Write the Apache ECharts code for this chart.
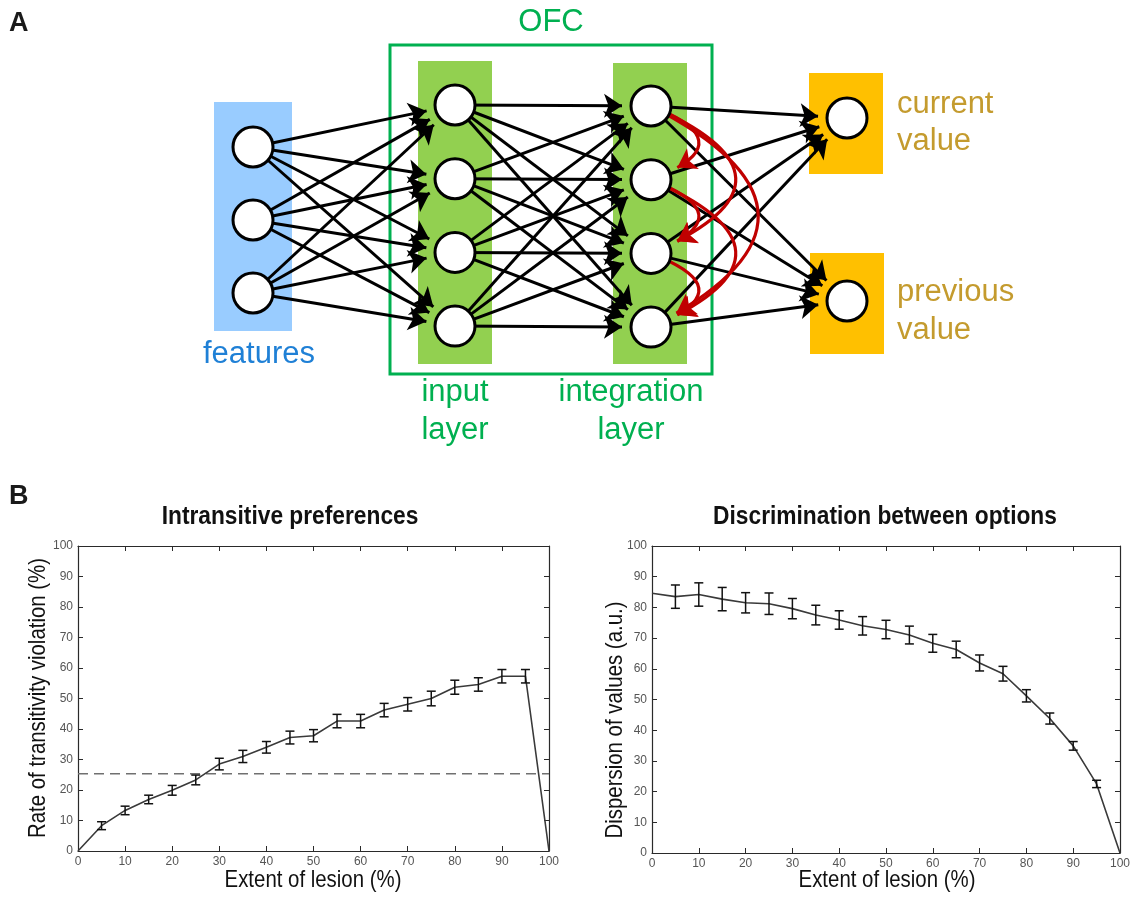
<!DOCTYPE html>
<html><head><meta charset="utf-8">
<script src="https://cdn.jsdelivr.net/npm/echarts@6/dist/echarts.min.js"></script>
<style>html,body{margin:0;padding:0;background:#fff}#c{width:1133px;height:897px}</style>
</head><body><div id="c"></div>
<script>
// ---------------- DATA ----------------
const lesion = [0,5,10,15,20,25,30,35,40,45,50,55,60,65,70,75,80,85,90,95,100];
const violationRate = [0,8.3,13.3,16.9,19.9,23.3,28.5,31.0,34.0,37.2,37.8,42.6,42.6,46.2,48.1,50.0,53.7,54.6,57.3,57.3,0];
const violationErr  = [null,1.3,1.4,1.4,1.6,1.6,1.9,2.0,1.9,2.1,2.0,2.2,2.2,2.2,2.2,2.4,2.3,2.2,2.2,2.2,null];
const chanceLevel = 25.3;
const dispersion    = [84.6,83.5,84.2,82.7,81.5,81.2,79.6,77.5,75.9,74.0,72.8,71.0,68.3,66.3,61.9,58.4,51.2,43.8,34.9,22.5,0];
const dispersionErr = [null,3.8,3.8,3.8,3.3,3.5,3.3,3.2,3.0,3.0,3.0,2.9,2.9,2.7,2.6,2.4,2.0,1.8,1.4,1.2,null];
const axisTicks = [0,10,20,30,40,50,60,70,80,90,100];

const layerNames = ['features','input layer','integration layer','output'];
const layerSizes = [3,4,4,2];
const outputNames = ['current value','previous value'];
const recurrentPairs = [[0,1],[0,2],[0,3],[1,2],[1,3],[2,3]];

const panelTitles = ['Intransitive preferences','Discrimination between options'];
const xTitle = 'Extent of lesion (%)';
const yTitles = ['Rate of transitivity violation (%)','Dispersion of values (a.u.)'];

// ---------------- LAYOUT / STYLE ----------------
const SANS = '"Liberation Sans",Arial,Helvetica,sans-serif';
const DIAG = {
  layerX: [253,455,651,847],
  layerTop: [147,105,106,118],
  layerStep: [73,73.7,73.7,183],
  nodeSize: 40,
  arrow: [11, 18],
  arcCurve: {1:1.3, 2:1.15, 3:0.97}
};

// ---------------- BUILD ----------------
const nodes = [], links = [];
layerSizes.forEach((n, li) => {
  for (let i = 0; i < n; i++) {
    nodes.push({name: 'L'+li+'N'+i, value: [DIAG.layerX[li], DIAG.layerTop[li] + i*DIAG.layerStep[li]]});
  }
});
for (let li = 0; li < layerSizes.length-1; li++) {
  for (let i = 0; i < layerSizes[li]; i++) for (let j = 0; j < layerSizes[li+1]; j++) {
    links.push({source: 'L'+li+'N'+i, target: 'L'+(li+1)+'N'+j});
  }
}
recurrentPairs.forEach(([a,b]) => {
  links.push({source:'L2N'+a, target:'L2N'+b, lineStyle:{color:'#C00000', width:3.2, opacity:1, curveness: DIAG.arcCurve[b-a]}});
});

function mkX(g, pos, labels) {
  return {
    gridIndex: g, type: 'value', position: pos, min: 0, max: 100, interval: 10,
    axisLine: {show: true, onZero: false, lineStyle: {color: '#2a2a2a', width: 1.2}},
    axisTick: {show: true, inside: true, length: 5, lineStyle: {color: '#2a2a2a', width: 1}},
    axisLabel: {show: labels, color: '#555', fontFamily: SANS, fontSize: 12, margin: 5},
    splitLine: {show: false}
  };
}
function errData(vals, errs) {
  const out = [];
  lesion.forEach((x, i) => { if (errs[i] != null) out.push([x, vals[i]-errs[i], vals[i]+errs[i]]); });
  return out;
}
function errSeries(xi, yi, vals, errs) {
  return {
    type: 'custom', xAxisIndex: xi, yAxisIndex: yi, silent: true, z: 4,
    data: errData(vals, errs),
    renderItem: (p, api) => {
      const x = api.value(0);
      const lo = api.coord([x, api.value(1)]);
      const hi = api.coord([x, api.value(2)]);
      const w = 4.5, st = {stroke: '#111', lineWidth: 1.5};
      return {type: 'group', children: [
        {type: 'line', shape: {x1: lo[0], y1: lo[1], x2: hi[0], y2: hi[1]}, style: st},
        {type: 'line', shape: {x1: lo[0]-w, y1: lo[1], x2: lo[0]+w, y2: lo[1]}, style: st},
        {type: 'line', shape: {x1: hi[0]-w, y1: hi[1], x2: hi[0]+w, y2: hi[1]}, style: st}
      ]};
    }
  };
}
function txt(text, x, y, size, color, align, weight, extra) {
  return Object.assign({type: 'text', x: x, y: y, z: 20, silent: true,
    style: {text: text, fontSize: size, fontFamily: SANS, fontWeight: weight || 'normal',
            fill: color, align: align || 'center', verticalAlign: 'middle'}}, extra || {});
}
function rect(x, y, w, h, color) {
  return {type: 'rect', z: 0, silent: true, shape: {x: x, y: y, width: w, height: h}, style: {fill: color}};
}

const GREEN = '#00B050', GOLD = '#C49B2E', BLUE = '#1F80D6';
const graphic = [
  rect(214,102,78,229,'#99CCFF'),
  rect(418,61,74,303,'#92D050'),
  rect(613,63,74,301,'#92D050'),
  rect(809,73,74,101,'#FFC000'),
  rect(810,253,74,101,'#FFC000'),
  {type: 'rect', z: 1, silent: true, shape: {x: 390, y: 45, width: 322, height: 329}, style: {fill: 'none', stroke: GREEN, lineWidth: 3}},
  txt('A', 9, 24, 27, '#1a1a1a', 'left', 'bold'),
  txt('OFC', 551, 22, 31, GREEN),
  txt(layerNames[0], 259, 354, 31, BLUE),
  txt('input', 455, 392, 31, GREEN), txt('layer', 455, 430, 31, GREEN),
  txt('integration', 631, 392, 31, GREEN), txt('layer', 631, 430, 31, GREEN),
  txt('current', 897, 104, 31, GOLD, 'left'), txt('value', 897, 141, 31, GOLD, 'left'),
  txt('previous', 897, 292, 31, GOLD, 'left'), txt('value', 897, 330, 31, GOLD, 'left'),
  txt('B', 9, 497, 27, '#1a1a1a', 'left', 'bold'),
  txt(panelTitles[0], 290, 517, 25, '#111', 'center', 'bold', {scaleX: 0.91}),
  txt(panelTitles[1], 885, 517, 25, '#111', 'center', 'bold', {scaleX: 0.91}),
  txt(xTitle, 313, 880, 24, '#111', 'center', 'normal', {scaleX: 0.85}),
  txt(xTitle, 887, 880, 24, '#111', 'center', 'normal', {scaleX: 0.85}),
  txt(yTitles[0], 38, 698, 24, '#111', 'center', 'normal', {scaleX: 0.85, rotation: Math.PI/2}),
  txt(yTitles[1], 615, 720, 24, '#111', 'center', 'normal', {scaleX: 0.85, rotation: Math.PI/2})
];

const option = {
  animation: false,
  backgroundColor: '#fff',
  graphic: graphic,
  grid: [
    {left: 0, top: 0, width: 1133, height: 897, show: false},
    {left: 78, top: 546, width: 471, height: 305, show: false},
    {left: 652, top: 546, width: 470, height: 307, show: false}
  ],
  xAxis: [
    {gridIndex: 0, type: 'value', min: 0, max: 1133, show: false},
    mkX(1, 'bottom', true), mkX(1, 'top', false),
    mkX(2, 'bottom', true), mkX(2, 'top', false)
  ],
  yAxis: [
    {gridIndex: 0, type: 'value', min: 0, max: 897, inverse: true, show: false},
    mkX(1, 'left', true), mkX(1, 'right', false),
    mkX(2, 'left', true), mkX(2, 'right', false)
  ],
  series: [
    {
      type: 'graph', layout: 'none', coordinateSystem: 'cartesian2d', xAxisIndex: 0, yAxisIndex: 0,
      silent: true, z: 2,
      symbol: 'circle', symbolSize: DIAG.nodeSize + DIAG.arrow[1],
      itemStyle: {color: 'rgba(0,0,0,0)', borderWidth: 0},
      label: {show: false},
      edgeSymbol: ['none', 'arrow'], edgeSymbolSize: DIAG.arrow,
      lineStyle: {color: '#000', width: 3, opacity: 1, curveness: 0},
      data: nodes, links: links
    },
    {
      type: 'scatter', xAxisIndex: 0, yAxisIndex: 0, silent: true, z: 5,
      symbol: 'circle', symbolSize: DIAG.nodeSize,
      itemStyle: {color: '#fff', borderColor: '#000', borderWidth: 3, opacity: 1},
      data: nodes.map(n => n.value)
    },
    {
      type: 'line', xAxisIndex: 1, yAxisIndex: 1, silent: true, z: 3, showSymbol: false,
      lineStyle: {color: '#3a3a3a', width: 1.6},
      data: lesion.map((x, i) => [x, violationRate[i]])
    },
    {
      type: 'line', xAxisIndex: 1, yAxisIndex: 1, silent: true, z: 2, showSymbol: false,
      lineStyle: {color: '#707070', width: 1.5, type: [10, 6]},
      data: [[0, chanceLevel], [100, chanceLevel]]
    },
    errSeries(1, 1, violationRate, violationErr),
    {
      type: 'line', xAxisIndex: 3, yAxisIndex: 3, silent: true, z: 3, showSymbol: false,
      lineStyle: {color: '#3a3a3a', width: 1.6},
      data: lesion.map((x, i) => [x, dispersion[i]])
    },
    errSeries(3, 3, dispersion, dispersionErr)
  ]
};
const chart = echarts.init(document.getElementById('c'), null, {renderer: 'canvas'});
chart.setOption(option);
</script>
</body></html>
